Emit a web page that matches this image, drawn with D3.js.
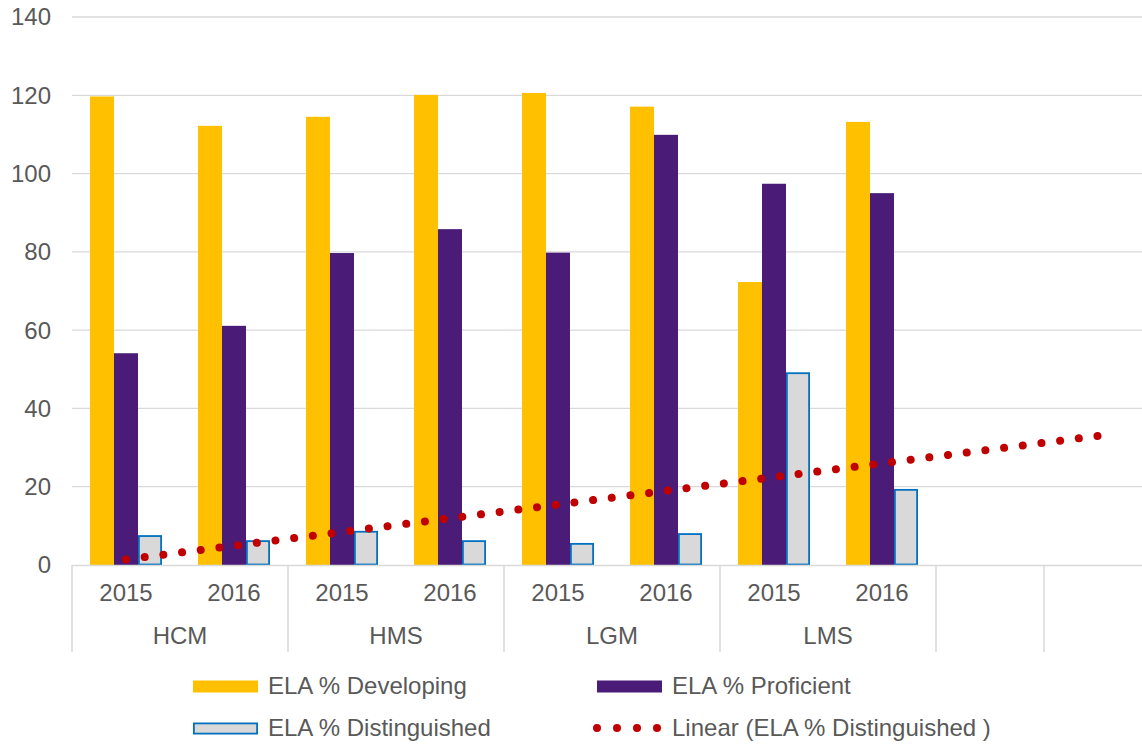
<!DOCTYPE html>
<html>
<head>
<meta charset="utf-8">
<script src="https://cdn.jsdelivr.net/npm/d3@7"></script>
<style>
  html, body { margin: 0; padding: 0; background: #fff; overflow: hidden; }
  svg { display: block; }
  text { font-family: "Liberation Sans", Arial, sans-serif; fill: #595959; }
</style>
</head>
<body>
<svg id="chart" width="1142" height="744"></svg>
<script>
// ---- data ----
const schools = ["HCM", "HMS", "LGM", "LMS", "", ""];
const years = ["2015", "2016"];
const slotLabels = ["2015", "2016", "2015", "2016", "2015", "2016", "2015", "2016", "", ""];
const slotGroups = ["HCM", "HCM", "HMS", "HMS", "LGM", "LGM", "LMS", "LMS", "", ""];
const developing = [119.7, 112.2, 114.5, 120.1, 120.6, 117.1, 72.3, 113.2];
const proficient = [54.1, 61.1, 79.7, 85.8, 79.8, 109.9, 97.4, 95.0];
const distinguished = [7.4, 6.1, 8.5, 6.1, 5.4, 7.9, 49.0, 19.2];
const seriesNames = ["ELA % Developing", "ELA % Proficient", "ELA % Distinguished"];
const trendName = "Linear (ELA % Distinguished )";
const yTicks = [0, 20, 40, 60, 80, 100, 120, 140];
const forecastPeriods = 2;

(function () {
// ---- layout ----
const svg = d3.select("#chart");
const mLeft = 72, mRight = 1152, mTop = 17, mBottom = 565;
const axisBottom = 652;
const fs = 24;

const x = d3.scaleBand().domain(d3.range(slotLabels.length)).range([mLeft, mRight]).padding(0);
const xInner = d3.scaleBand().domain([0, 1, 2]).range([0, x.bandwidth()]).paddingInner(0).paddingOuter(0.75);
const y = d3.scaleLinear().domain([0, 140]).range([mBottom, mTop]);

const colors = ["#FFC000", "#4A1C78", "#D9D9D9"];

// gridlines
svg.append("g").selectAll("line").data(yTicks.filter(d => d > 0)).join("line")
  .attr("x1", mLeft).attr("x2", mRight)
  .attr("y1", d => y(d)).attr("y2", d => y(d))
  .attr("stroke", "#D9D9D9").attr("stroke-width", 1.3);

// y tick labels
svg.append("g").selectAll("text").data(yTicks).join("text")
  .attr("x", 51).attr("y", d => y(d)).attr("dy", "0.35em")
  .attr("text-anchor", "end").attr("font-size", fs)
  .text(d => d);

// bars
const seriesData = [developing, proficient, distinguished];
seriesData.forEach((vals, s) => {
  svg.append("g").selectAll("rect").data(vals).join("rect")
    .attr("x", (d, i) => x(i) + xInner(s) + (s === 2 ? 0.9 : 0))
    .attr("width", xInner.bandwidth() - (s === 2 ? 1.8 : 0))
    .attr("y", d => y(d))
    .attr("height", d => y(0) - y(d) - (s === 2 ? 0.5 : 0))
    .attr("fill", colors[s])
    .attr("stroke", s === 2 ? "#0070C0" : "none")
    .attr("stroke-width", s === 2 ? 1.8 : 0);
});

// x axis line
svg.append("line").attr("x1", mLeft).attr("x2", mRight).attr("y1", mBottom + 0.5).attr("y2", mBottom + 0.5)
  .attr("stroke", "#D9D9D9").attr("stroke-width", 1.5);

// group separators
const sepIdx = [0, 2, 4, 6, 8, 9, 10];
svg.append("g").selectAll("line").data(sepIdx).join("line")
  .attr("x1", i => (i < slotLabels.length ? x(i) : mRight))
  .attr("x2", i => (i < slotLabels.length ? x(i) : mRight))
  .attr("y1", mBottom).attr("y2", axisBottom)
  .attr("stroke", "#D9D9D9").attr("stroke-width", 1.5);

// year labels
svg.append("g").selectAll("text").data(slotLabels).join("text")
  .attr("x", (d, i) => x(i) + x.bandwidth() / 2).attr("y", 593).attr("dy", "0.35em")
  .attr("text-anchor", "middle").attr("font-size", fs)
  .text(d => d);

// group labels
schools.forEach(g => {
  if (!g) return;
  const idx = slotGroups.map((s, i) => s === g ? i : -1).filter(i => i >= 0);
  const cx = (x(idx[0]) + x(idx[idx.length - 1]) + x.bandwidth()) / 2;
  svg.append("text").attr("x", cx).attr("y", 636).attr("dy", "0.35em")
    .attr("text-anchor", "middle").attr("font-size", fs).text(g);
});

// linear trendline (least squares on distinguished, forecast forward)
const n = distinguished.length;
const xs = d3.range(1, n + 1);
const mx = d3.mean(xs), my = d3.mean(distinguished);
const slope = d3.sum(xs, (xi, i) => (xi - mx) * (distinguished[i] - my)) / d3.sum(xs, xi => (xi - mx) ** 2);
const intercept = my - slope * mx;
const trendPts = d3.range(1, n + forecastPeriods + 1).map(k => [x(k - 1) + x.bandwidth() / 2, y(intercept + slope * k)]);
const trend = svg.append("path")
  .attr("d", d3.line()(trendPts))
  .attr("fill", "none").attr("stroke", "#C00000").attr("stroke-width", 8)
  .attr("stroke-linecap", "round");
const len = trend.node().getTotalLength();
const gap = len / Math.round(len / 18.8) - 0.02;
trend.attr("stroke-dasharray", `0.01 ${gap}`);

// legend
const leg = svg.append("g");
const legItems = [
  { name: seriesNames[0], x: 193, y: 686, type: "bar", fill: colors[0] },
  { name: seriesNames[1], x: 597, y: 686, type: "bar", fill: colors[1] },
  { name: seriesNames[2], x: 193, y: 728, type: "bar", fill: colors[2], stroke: "#0070C0" },
  { name: trendName, x: 597, y: 728, type: "trend" }
];
legItems.forEach(it => {
  if (it.type === "bar") {
    leg.append("rect").attr("x", it.x + (it.stroke ? 0.9 : 0)).attr("y", it.y - 5.5 + (it.stroke ? 0.9 : 0))
      .attr("width", 65 - (it.stroke ? 1.8 : 0)).attr("height", 12 - (it.stroke ? 1.8 : 0))
      .attr("fill", it.fill).attr("stroke", it.stroke || "none").attr("stroke-width", it.stroke ? 1.8 : 0);
  } else {
    leg.append("g").selectAll("circle").data(d3.range(4)).join("circle")
      .attr("cx", k => it.x + k * 20).attr("cy", it.y).attr("r", 4)
      .attr("fill", "#C00000");
  }
  leg.append("text").attr("x", it.x + 75).attr("y", it.y).attr("dy", "0.35em")
    .attr("font-size", fs).text(it.name);
});
})();
</script>
</body>
</html>
